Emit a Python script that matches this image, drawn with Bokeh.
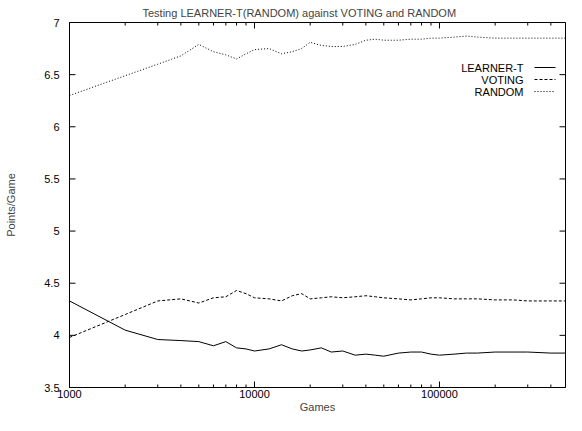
import numpy as np
from bokeh.plotting import figure
from bokeh.models import Range1d, FixedTicker, Label, Arrow
from bokeh.embed import file_html
from bokeh.resources import INLINE

# ---- data ----
games = [1000, 2000, 3000, 4000, 5000, 6000, 7000, 8000, 9000, 10000,
         12000, 14000, 16000, 18000, 20000, 23000, 26000, 30000, 35000, 40000,
         45000, 50000, 60000, 70000, 80000, 90000, 100000, 120000, 140000, 160000,
         200000, 250000, 300000, 400000, 480000]

learner_t = [4.33, 4.05, 3.96, 3.95, 3.94, 3.90, 3.94, 3.88, 3.87, 3.85,
             3.87, 3.91, 3.87, 3.85, 3.86, 3.88, 3.84, 3.85, 3.81, 3.82,
             3.81, 3.80, 3.83, 3.84, 3.84, 3.82, 3.81, 3.82, 3.83, 3.83,
             3.84, 3.84, 3.84, 3.83, 3.83]

voting = [3.98, 4.20, 4.33, 4.35, 4.31, 4.36, 4.37, 4.43, 4.40, 4.36,
          4.35, 4.33, 4.38, 4.40, 4.35, 4.36, 4.37, 4.36, 4.37, 4.38,
          4.37, 4.36, 4.35, 4.34, 4.35, 4.36, 4.36, 4.35, 4.35, 4.35,
          4.34, 4.34, 4.33, 4.33, 4.33]

random_ = [6.30, 6.49, 6.60, 6.68, 6.79, 6.72, 6.69, 6.65, 6.70, 6.74,
           6.75, 6.70, 6.72, 6.75, 6.81, 6.78, 6.77, 6.77, 6.79, 6.83,
           6.84, 6.83, 6.83, 6.84, 6.84, 6.85, 6.85, 6.86, 6.87, 6.86,
           6.85, 6.85, 6.85, 6.85, 6.85]

series_names = ["LEARNER-T", "VOTING", "RANDOM"]
series_dash = ["solid", "3 2", "1 2"]

y_ticks = [3.5, 4, 4.5, 5, 5.5, 6, 6.5, 7]
y_tick_labels = ["3.5", "4", "4.5", "5", "5.5", "6", "6.5", "7"]
x_ticks = [1000, 10000, 100000]
x_tick_labels = ["1000", "10000", "100000"]
x_minor = [2000, 3000, 4000, 5000, 6000, 7000, 8000, 9000,
           20000, 30000, 40000, 50000, 60000, 70000, 80000, 90000,
           200000, 300000, 400000]
x_lo, x_hi = 1000, 480000
y_lo, y_hi = 3.5, 7

FONT = "Liberation Sans"
FS = "11px"

# approximate frame size in pixels (for tick-mark lengths)
FRAME_W, FRAME_H = 498, 365
MAJ_PX, MIN_PX = 6, 3

p = figure(width=566, height=415, x_axis_type="log",
           x_range=Range1d(x_lo, x_hi), y_range=Range1d(y_lo, y_hi),
           output_backend="svg", toolbar_location=None,
           min_border_left=69, min_border_right=1,
           min_border_top=22, min_border_bottom=28)
p.grid.visible = False
p.background_fill_color = "white"
p.border_fill_color = "white"
p.outline_line_color = "black"

p.title.text = "Testing LEARNER-T(RANDOM) against VOTING and RANDOM"
p.title.text_font = FONT
p.title.text_font_size = FS
p.title.text_font_style = "normal"
p.title.align = "left"
p.title.offset = 73
p.title.standoff = 7

def style_axis(ax):
    ax.axis_line_color = "black"
    ax.major_tick_in = 0
    ax.major_tick_out = 0
    ax.minor_tick_in = 0
    ax.minor_tick_out = 0
    ax.major_label_text_font = FONT
    ax.major_label_text_font_size = FS
    ax.major_label_text_color = "black"
    ax.axis_label_text_font = FONT
    ax.axis_label_text_font_size = FS
    ax.axis_label_text_font_style = "normal"

xa = p.xaxis[0]
xa.ticker = FixedTicker(ticks=x_ticks, minor_ticks=x_minor)
xa.major_label_overrides = dict(zip(x_ticks, x_tick_labels))
style_axis(xa)
xa.axis_label = "Games"
xa.major_label_standoff = 2
xa.axis_label_standoff = 0

ya = p.yaxis[0]
ya.ticker = FixedTicker(ticks=y_ticks)
ya.major_label_overrides = dict(zip(y_ticks, y_tick_labels))
style_axis(ya)
ya.axis_label = "Points/Game"
ya.major_label_standoff = 10
ya.axis_label_standoff = 24

# inward tick marks on all four sides (gnuplot mirror style)
dy_per_px = (y_hi - y_lo) / FRAME_H
dlogx_per_px = np.log10(x_hi / x_lo) / FRAME_W
for ticks, px in ((x_ticks, MAJ_PX), (x_minor, MIN_PX)):
    n = len(ticks)
    p.segment(x0=ticks, y0=[y_lo] * n, x1=ticks, y1=[y_lo + px * dy_per_px] * n,
              line_color="black", line_width=1)
    p.segment(x0=ticks, y0=[y_hi] * n, x1=ticks, y1=[y_hi - px * dy_per_px] * n,
              line_color="black", line_width=1)
ny = len(y_ticks)
p.segment(x0=[x_lo] * ny, y0=y_ticks, x1=[x_lo * 10 ** (MAJ_PX * dlogx_per_px)] * ny,
          y1=y_ticks, line_color="black", line_width=1)
p.segment(x0=[x_hi] * ny, y0=y_ticks, x1=[x_hi / 10 ** (MAJ_PX * dlogx_per_px)] * ny,
          y1=y_ticks, line_color="black", line_width=1)

series_vals = [learner_t, voting, random_]
for vals, dash in zip(series_vals, series_dash):
    p.line(games, vals, line_color="black", line_width=1, line_dash=dash)

# legend: text right-aligned, sample line to its right (gnuplot style)
leg_text_x = 454
leg_line_x0 = 465
leg_line_x1 = 486
leg_y0 = 320
leg_dy = 12
for i, (name, dash) in enumerate(zip(series_names, series_dash)):
    y = leg_y0 - i * leg_dy
    p.add_layout(Label(x=leg_text_x, y=y, x_units="screen", y_units="screen",
                       text=name, text_align="right", text_baseline="middle",
                       text_font=FONT, text_font_size=FS, text_color="black"))
    p.add_layout(Arrow(end=None, x_start=leg_line_x0, y_start=y,
                       x_end=leg_line_x1, y_end=y,
                       start_units="screen", end_units="screen",
                       line_color="black", line_width=1, line_dash=dash))

open("out.html", "w").write(file_html(p, INLINE))
